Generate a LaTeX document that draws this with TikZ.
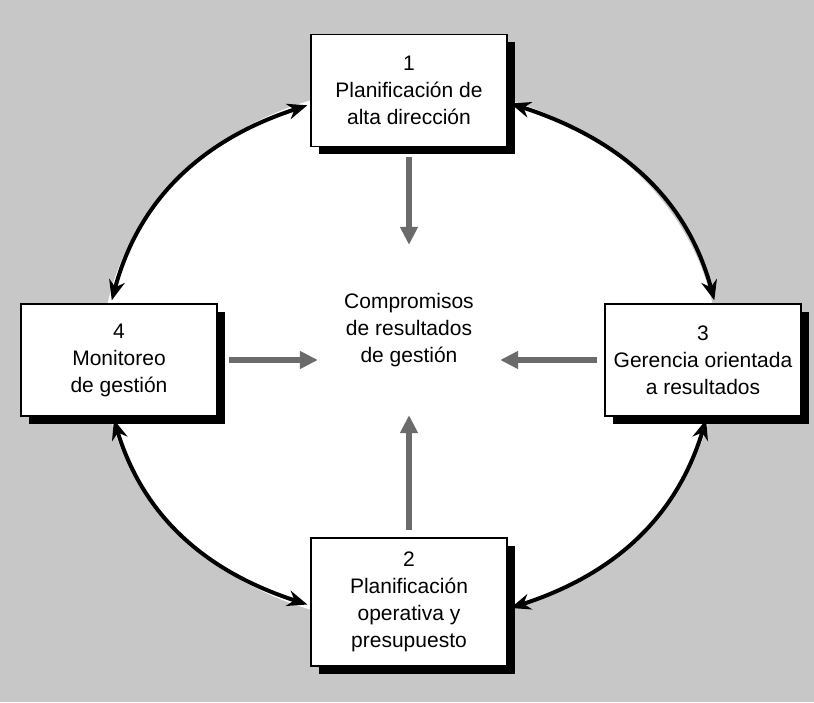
\documentclass[tikz,border=0pt]{standalone}
\usepackage{fontspec}
\setmainfont{Liberation Sans}
\usepackage{tikz}
\usetikzlibrary{arrows.meta,shadows}

\begin{document}
\begin{tikzpicture}[x=0.5pt,y=0.5pt,font=\fontsize{10.5}{13.5}\selectfont,
	caja/.style={draw,line width=0.8pt,fill=white,align=center,minimum width=98pt,minimum height=56pt,inner xsep=2pt,inner ysep=7pt,drop shadow={shadow xshift=4pt,shadow yshift=-4pt,fill=black,opacity=1}},
	ciclo/.style={{Stealth[length=10pt,width=8pt]}-{Stealth[length=10pt,width=8pt]},line width=2pt,shorten <=1.5pt,shorten >=1.5pt},
	aporte/.style={-{Triangle[length=9pt,width=8.5pt]},line width=2.6pt,black!58}]
		\useasboundingbox (0,0) rectangle (814,702);
		\fill[black!22] (0,0) rectangle (814,702);
		\fill[white] (410,347) ellipse [x radius=154pt,y radius=134.5pt];
		% centro y las cuatro etapas
		\node (c) [align=center,inner xsep=13pt,inner ysep=24pt] at (409,372) {Compromisos\\de resultados\\de gesti\'on};
		\node (b1) [caja,above of=c,node distance=119.75pt] {1\\Planificaci\'on de\\alta direcci\'on};
		\node (b2) [caja,below of=c,node distance=136pt] {2\\Planificaci\'on\\operativa y\\presupuesto};
		\node (b3) [caja] at (703,342) {3\\Gerencia orientada\\a resultados};
		\node (b4) [caja] at (119,342) {4\\Monitoreo\\de gesti\'on};
		% ciclo
		\draw[ciclo] (b1.188) to[out=198,in=75] (b4.98);
		\draw[ciclo] (b1.-7) to[out=-18,in=105] (b3.78);
		\draw[ciclo] (b4.264) to[out=-73,in=162] (b2.182);
		\draw[ciclo] (b3.-86) to[out=253,in=18] (b2.-4);
		% aportes al centro
		\draw[aporte,shorten <=5pt] (b1) -- (c);
		\draw[aporte,shorten <=3.5pt] (b2) -- (c);
		\draw[aporte,shorten <=5.5pt] (b4.east) -- (b4.east -| c.west);
		\draw[aporte,shorten <=3.5pt] (b3.west) -- (b3.west -| c.east);
\end{tikzpicture}
\end{document}
